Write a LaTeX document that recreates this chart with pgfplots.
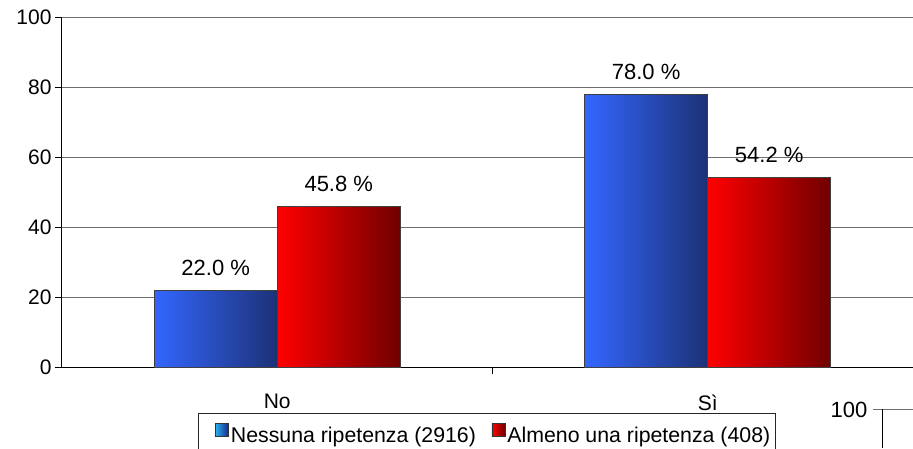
\documentclass[border=0pt]{standalone}
\usepackage{fontspec}
\setmainfont{Liberation Sans}
\usepackage{pgfplots}
\pgfplotsset{compat=1.18}
\definecolor{bL}{RGB}{51,102,255}
\definecolor{bM}{RGB}{44,88,212}
\definecolor{bR}{RGB}{28,50,118}
\definecolor{rL}{RGB}{255,0,0}
\definecolor{rM}{RGB}{205,0,0}
\definecolor{rR}{RGB}{112,0,0}
\definecolor{lbL}{RGB}{40,175,235}
\definecolor{lbR}{RGB}{20,40,140}
\definecolor{gridc}{RGB}{110,110,110}
\pgfplotsset{
  barB/.style={ybar, bar width=0.286, bar shift=0pt, draw=black!75, line width=1pt,
    left color=bL, middle color=bM, right color=bR},
  barR/.style={ybar, bar width=0.286, bar shift=0pt, draw=black!75, line width=1pt,
    left color=rL, middle color=rM, right color=rR},
}
\begin{document}
\begin{tikzpicture}[font=\fontsize{22}{26}\selectfont]
\path[use as bounding box] (-62pt,-81pt) rectangle (851pt,367pt);
\begin{axis}[
  at={(0pt,0pt)}, anchor=south west,
  scale only axis, width=851pt, height=350pt,
  xmin=-0.5, xmax=1.477, ymin=0, ymax=100,
  /pgf/number format/assume math mode=true,
  axis x line*=bottom, axis y line*=left,
  axis line style={black, line width=1pt, -},
  ytick={0,20,...,100},
  ymajorgrids, grid style={gridc, line width=1pt},
  xtick={0,1}, xticklabels={No,Sì},
  tick label style={font=\fontsize{21}{25}\selectfont},
  x tick style={draw=none},
  xticklabel style={yshift=-17pt},
  extra x ticks={0.5}, extra x tick labels={},
  extra x tick style={grid=none, x tick style={draw=black, line width=1pt}},
  tick align=outside, major tick length=7pt,
  y tick style={black, line width=1pt},
  point meta=explicit symbolic,
  nodes near coords,
  nodes near coords style={anchor=south, inner sep=3pt, yshift=11pt, text=black},
  legend columns=2,
  legend cell align=left,
  legend style={at={(axis description cs:0.1598,-0.1314)}, anchor=north west,
    font=\fontsize{21.3}{25}\selectfont,
    draw=black!85, line width=1pt, inner xsep=3pt, inner ysep=10pt,
    /tikz/every even column/.append style={column sep=0pt}},
]
\addplot[barB,
  legend image code/.code={\pgfpathmoveto{\pgfqpoint{0pt}{0pt}}\pgfusepath{}\draw[draw=black!80, line width=0.8pt, left color=lbL, right color=lbR] (14pt,-1pt) rectangle (27pt,12pt);}]
  coordinates {(-0.143,22.0) [22.0 \%]};
\addlegendentry{Nessuna ripetenza (2916)}
\addplot[barR,
  legend image code/.code={\pgfpathmoveto{\pgfqpoint{0pt}{0pt}}\pgfusepath{}\draw[draw=black!80, line width=0.8pt, left color=rL, right color=rR] (14pt,-1pt) rectangle (27pt,12pt);}]
  coordinates {(0.143,45.8) [45.8 \%]};
\addlegendentry{Almeno una ripetenza (408)}
\addplot[barB, forget plot] coordinates {(0.857,78.0) [78.0 \%]};
\addplot[barR, forget plot] coordinates {(1.143,54.2) [54.2 \%]};
\end{axis}
\node at (787pt,-43pt) {100};
\draw[gridc, line width=1pt] (811pt,-42pt) -- (851pt,-42pt);
\draw[black, line width=1pt] (820pt,-42pt) -- (820pt,-81pt);
\end{tikzpicture}
\end{document}
